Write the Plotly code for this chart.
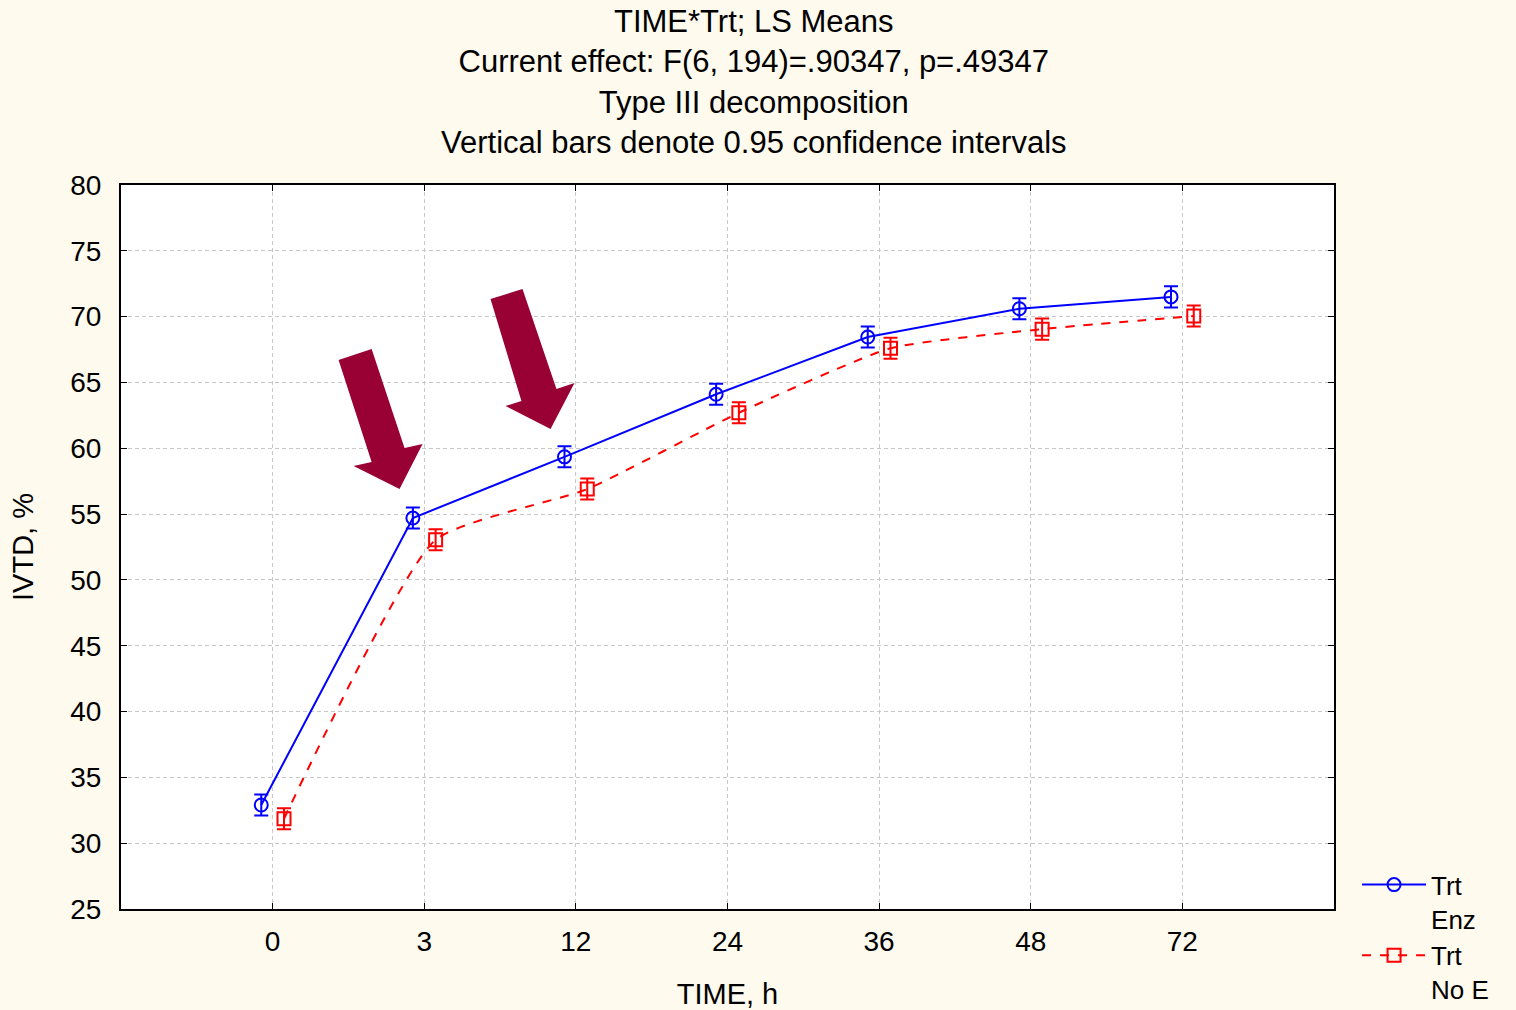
import plotly.graph_objects as go

# ---- data ----
time_labels = ["0", "3", "12", "24", "36", "48", "72"]
enz_means = [32.9, 54.7, 59.35, 64.1, 68.45, 70.6, 71.5]
enz_ci = [0.8, 0.8, 0.8, 0.8, 0.8, 0.8, 0.8]
noe_means = [31.85, 53.05, 56.9, 62.7, 67.6, 69.05, 70.05]
noe_ci = [0.8, 0.8, 0.8, 0.8, 0.8, 0.8, 0.8]
series_names = ["Trt<br>Enz", "Trt<br>No E"]
y_ticks = [25, 30, 35, 40, 45, 50, 55, 60, 65, 70, 75, 80]
title_lines = ["TIME*Trt; LS Means",
               "Current effect: F(6, 194)=.90347, p=.49347",
               "Type III decomposition",
               "Vertical bars denote 0.95 confidence intervals"]

# ---- style ----
BG = "#FFFAEE"
FONT = "Liberation Sans, Arial, sans-serif"
OFFSET = 0.075
ARROW = "#990033"
W, H = 1516, 1010
ML, MR, MT, MB = 121, 182, 185, 101
PLOT_H = H - MT - MB

idx = list(range(len(time_labels)))
x_enz = [i - OFFSET for i in idx]
x_noe = [i + OFFSET for i in idx]

fig = go.Figure()
fig.add_trace(go.Scatter(
    x=x_enz, y=enz_means, name=series_names[0], mode="lines+markers",
    line=dict(color="#0000FF", width=2),
    marker=dict(symbol="circle-open", size=13, color="#0000FF", line=dict(width=2)),
    error_y=dict(type="data", array=enz_ci, color="#0000FF", thickness=2, width=7),
))
fig.add_trace(go.Scatter(
    x=x_noe, y=noe_means, name=series_names[1], mode="lines+markers",
    line=dict(color="#FF0000", width=2, dash="dash", shape="spline", smoothing=0.5),
    marker=dict(symbol="square-open", size=13, color="#FF0000", line=dict(width=2)),
    error_y=dict(type="data", array=noe_ci, color="#FF0000", thickness=2, width=7),
))

# decorative arrows (data coordinates)
arrow1 = [(0.435, 66.71), (0.653, 67.54), (0.870, 60.02), (0.989, 60.33),
          (0.837, 56.91), (0.534, 58.65), (0.653, 58.96)]
arrow2 = [(1.437, 71.34), (1.648, 72.10), (1.872, 64.50), (1.991, 64.96),
          (1.833, 61.46), (1.536, 63.21), (1.641, 63.59)]
for pts in (arrow1, arrow2):
    path = "M " + " L ".join(f"{x},{y}" for x, y in pts) + " Z"
    fig.add_shape(type="path", path=path, xref="x", yref="y",
                  fillcolor=ARROW, line=dict(color=ARROW, width=0), layer="above")

# multi-line title as annotation
fig.add_annotation(
    text="<br>".join(title_lines), showarrow=False,
    xref="paper", yref="paper", x=0.522, xanchor="center",
    y=1 + (MT - 2) / PLOT_H, yanchor="top",
    font=dict(family=FONT, size=31, color="black"), align="center",
)

fig.update_layout(
    width=W, height=H,
    paper_bgcolor=BG, plot_bgcolor="white",
    margin=dict(l=ML, r=MR, t=MT, b=MB, autoexpand=False),
    font=dict(family=FONT, color="black", size=27),
    showlegend=True,
    legend=dict(
        x=1.019, xanchor="left", y=0.066, yanchor="top",
        bgcolor="rgba(0,0,0,0)", font=dict(family=FONT, size=26),
        itemwidth=64, valign="top", tracegroupgap=0,
    ),
)
fig.update_xaxes(
    range=[-1, 7], tickmode="array", tickvals=idx, ticktext=time_labels,
    showgrid=True, gridcolor="#C8C8C8", griddash="4px,3px", gridwidth=1,
    showline=True, linecolor="black", linewidth=2, mirror="ticks",
    ticks="inside", ticklen=6, tickcolor="black", ticklabelstandoff=6,
    zeroline=False,
    title=dict(text="TIME, h", font=dict(family=FONT, size=29), standoff=28),
    tickfont=dict(family=FONT, size=28),
)
fig.update_yaxes(
    range=[25, 80], tickmode="array", tickvals=y_ticks,
    showgrid=True, gridcolor="#C8C8C8", griddash="4px,3px", gridwidth=1,
    showline=True, linecolor="black", linewidth=2, mirror="ticks",
    ticks="inside", ticklen=6, tickcolor="black", ticklabelstandoff=12,
    zeroline=False,
    title=dict(text="IVTD, %", font=dict(family=FONT, size=29), standoff=28),
    tickfont=dict(family=FONT, size=28),
)

fig.write_html(
    "out.html",
    config={"displayModeBar": False},
    post_script="document.body.style.margin='0';document.body.style.background='" + BG + "';",
)
